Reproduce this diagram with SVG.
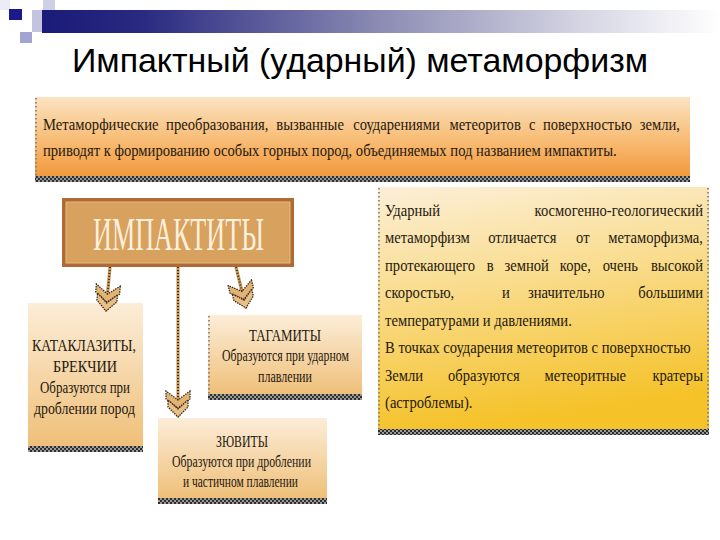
<svg xmlns="http://www.w3.org/2000/svg" width="720" height="540" viewBox="0 0 720 540">
<defs>
<style>
.ser{font-family:"Liberation Serif","Times New Roman",serif;fill:#24180e}
.t17{font-size:17.5px}
.t16{font-size:17px}
.dots{stroke:#7a7a7a;stroke-width:1.6;stroke-dasharray:1.5 2.5;fill:none}
.band{fill:url(#bandPat)}
.conBase{stroke:#c89a5a;stroke-width:3.2;fill:none}
.conDot{stroke:#3b2a1c;stroke-width:2;stroke-dasharray:1 2;fill:none}
</style>
<linearGradient id="barGrad" x1="0" y1="0" x2="1" y2="0">
<stop offset="0" stop-color="#1a1a78"/>
<stop offset="0.15" stop-color="#2a2a82"/>
<stop offset="0.5" stop-color="#8c8cb4"/>
<stop offset="0.8" stop-color="#d6d6e4"/>
<stop offset="1" stop-color="#ffffff"/>
</linearGradient>
<linearGradient id="topGrad" x1="0" y1="0" x2="0" y2="1">
<stop offset="0" stop-color="#fbe3c2"/>
<stop offset="0.5" stop-color="#f8bf7a"/>
<stop offset="1" stop-color="#f2983c"/>
</linearGradient>
<linearGradient id="rightGrad" x1="0" y1="0" x2="0.2" y2="1">
<stop offset="0" stop-color="#fcefd8"/>
<stop offset="0.45" stop-color="#f9dc8c"/>
<stop offset="1" stop-color="#f5c22a"/>
</linearGradient>
<linearGradient id="smallGrad" x1="0" y1="0" x2="0" y2="1">
<stop offset="0" stop-color="#fcedd8"/>
<stop offset="1" stop-color="#efbf78"/>
</linearGradient>
<pattern id="bandPat" width="4" height="4" patternUnits="userSpaceOnUse">
<rect width="4" height="4" fill="#9a9a9a"/>
<rect width="2" height="2" fill="#2e2e2e"/>
<rect x="2" y="2" width="2" height="2" fill="#2e2e2e"/>
</pattern>
<marker id="chev" viewBox="0 -13 28 26" refX="27" refY="0" markerWidth="28" markerHeight="26" markerUnits="userSpaceOnUse" orient="auto">
<path d="M1,-12 L9,-12 L18,0 L9,12 L1,12 L10,0 Z" fill="#e2b474" stroke="#3b2a1c" stroke-width="1.3" stroke-dasharray="1.5 1"/>
<path d="M10,-10 L17,-10 L27,0 L17,10 L10,10 L19,0 Z" fill="#e8bf84" stroke="#3b2a1c" stroke-width="1.3" stroke-dasharray="1.5 1"/>
</marker>
</defs>
<rect width="720" height="540" fill="#ffffff"/>
<g id="decor">
<rect x="0" y="0" width="10" height="10" fill="#ececf6"/>
<rect x="43" y="0" width="12" height="23" fill="#cfcfe6"/>
<rect x="32" y="10" width="11" height="22" fill="#c4c4e0"/>
<rect x="42" y="10" width="678" height="23" fill="url(#barGrad)"/>
<rect x="9" y="9" width="13" height="11" fill="#1a1a8c"/>
<rect x="20" y="32" width="12" height="11" fill="#a4a4d2"/>
</g>
<g id="title">
<text x="72" y="72" font-family="Liberation Sans, Arial, sans-serif" font-size="34" fill="#000" textLength="576" lengthAdjust="spacingAndGlyphs">Импактный (ударный) метаморфизм</text>
</g>
<g id="definition">
<rect x="35" y="97" width="655" height="80" fill="url(#topGrad)"/>
<rect x="35" y="176" width="655" height="6" class="band"/>
<line x1="36" y1="98" x2="36" y2="176" class="dots"/>
<g class="ser t17" transform="scale(0.835 1)">
<text x="51.5" y="130">Метаморфические</text>
<text x="198.9" y="130">преобразования,</text>
<text x="330.9" y="130">вызванные</text>
<text x="423" y="130">соударениями</text>
<text x="538.2" y="130">метеоритов</text>
<text x="633.4" y="130">с</text>
<text x="650.2" y="130">поверхностью</text>
<text x="814.4" y="130" text-anchor="end">земли,</text>
<text x="51.5" y="156">приводят к формированию особых горных пород, объединяемых под названием импактиты.</text>
</g>
</g>
<g id="impactites">
<rect x="62" y="198" width="232" height="69" fill="#b06a36"/>
<rect x="66" y="202" width="224" height="61" fill="#d8a15d" stroke="#e6bb82" stroke-width="1"/>
<text x="93" y="250" font-family="Liberation Serif, Times New Roman, serif" font-size="46" fill="#fbf0de" textLength="171" lengthAdjust="spacingAndGlyphs">ИМПАКТИТЫ</text>
</g>
<g id="description">
<rect x="378" y="187" width="331" height="243" fill="url(#rightGrad)"/>
<rect x="378" y="429" width="331" height="6" class="band"/>
<line x1="379" y1="188" x2="379" y2="429" class="dots"/>
<line x1="708" y1="188" x2="708" y2="429" class="dots"/>
<g class="ser t16" transform="scale(0.86 1)">
<text x="447.7" y="216">Ударный</text>
<text x="817.4" y="216" text-anchor="end">космогенно-геологический</text>
<text x="447.7" y="243">метаморфизм</text>
<text x="567.7" y="243">отличается</text>
<text x="669.8" y="243">от</text>
<text x="817.4" y="243" text-anchor="end">метаморфизма,</text>
<text x="447.7" y="271">протекающего</text>
<text x="566" y="271">в</text>
<text x="586.6" y="271">земной</text>
<text x="651" y="271">коре,</text>
<text x="700.8" y="271">очень</text>
<text x="817.4" y="271" text-anchor="end">высокой</text>
<text x="447.7" y="298">скоростью,</text>
<text x="583.7" y="298">и</text>
<text x="614" y="298">значительно</text>
<text x="817.4" y="298" text-anchor="end">большими</text>
<text x="447.7" y="326">температурами и давлениями.</text>
<text x="447.7" y="353">В точках соударения метеоритов с поверхностью</text>
<text x="447.7" y="381">Земли</text>
<text x="520.9" y="381">образуются</text>
<text x="633.1" y="381">метеоритные</text>
<text x="817.4" y="381" text-anchor="end">кратеры</text>
<text x="447.7" y="408">(астроблемы).</text>
</g>
</g>
<g id="cataclasites">
<rect x="28" y="303" width="115" height="144" fill="url(#smallGrad)"/>
<rect x="28" y="446" width="115" height="6" class="band"/>
<g class="ser" font-size="17.5">
<text x="32" y="351" textLength="104" lengthAdjust="spacingAndGlyphs">КАТАКЛАЗИТЫ,</text>
<text x="53" y="372" textLength="64" lengthAdjust="spacingAndGlyphs">БРЕКЧИИ</text>
<text x="40" y="393" textLength="90" lengthAdjust="spacingAndGlyphs">Образуются при</text>
<text x="34" y="414" textLength="101" lengthAdjust="spacingAndGlyphs">дроблении пород</text>
</g>
</g>
<g id="tagamites">
<rect x="208" y="315" width="154" height="80" fill="url(#smallGrad)"/>
<rect x="208" y="394" width="154" height="6" class="band"/>
<line x1="209" y1="316" x2="209" y2="394" class="dots"/>
<g class="ser" font-size="16">
<text x="249" y="341" textLength="72" lengthAdjust="spacingAndGlyphs">ТАГАМИТЫ</text>
<text x="222" y="361" textLength="127" lengthAdjust="spacingAndGlyphs">Образуются при ударном</text>
<text x="258" y="382" textLength="54" lengthAdjust="spacingAndGlyphs">плавлении</text>
</g>
</g>
<g id="suevites">
<rect x="158" y="418" width="169" height="81" fill="url(#smallGrad)"/>
<rect x="158" y="498" width="169" height="6" class="band"/>
<g class="ser" font-size="16">
<text x="216" y="447" textLength="52" lengthAdjust="spacingAndGlyphs">ЗЮВИТЫ</text>
<text x="172" y="467" textLength="139" lengthAdjust="spacingAndGlyphs">Образуются при дроблении</text>
<text x="183" y="487" textLength="115" lengthAdjust="spacingAndGlyphs">и частичном плавлении</text>
</g>
</g>
<g id="connectors">
<path d="M110,267 L106,311" class="conBase"/>
<path d="M110,267 L106,311" class="conDot" marker-end="url(#chev)"/>
<path d="M178,267 L178,417" class="conBase"/>
<path d="M178,267 L178,417" class="conDot" marker-end="url(#chev)"/>
<path d="M236,267 L246,308" class="conBase"/>
<path d="M236,267 L246,308" class="conDot" marker-end="url(#chev)"/>
</g>
</svg>
